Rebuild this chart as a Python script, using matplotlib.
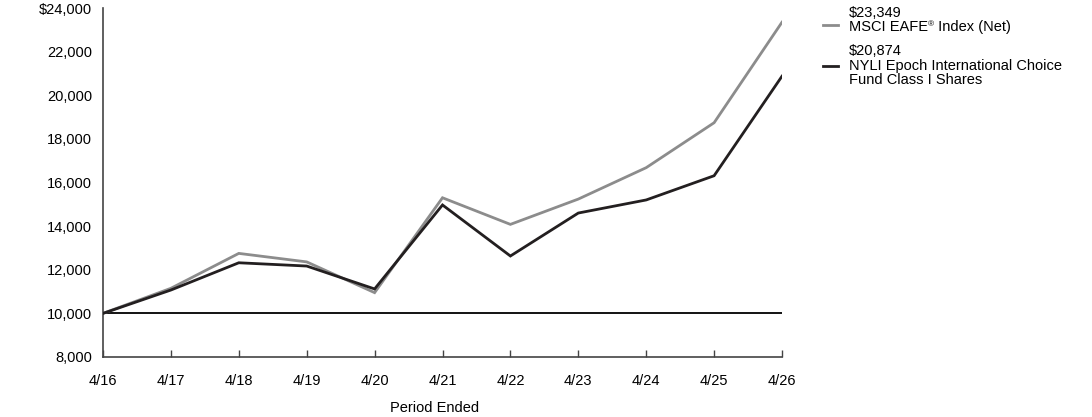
import matplotlib
matplotlib.use("Agg")
import matplotlib.pyplot as plt
from matplotlib.lines import Line2D

plt.rcParams['font.family'] = ['Liberation Sans', 'DejaVu Sans']

periods = ["4/16", "4/17", "4/18", "4/19", "4/20", "4/21", "4/22", "4/23", "4/24", "4/25", "4/26"]
msci = [10000, 11150, 12750, 12360, 10950, 15300, 14080, 15240, 16680, 18740, 23349]
fund = [10000, 11070, 12320, 12170, 11120, 14970, 12630, 14600, 15200, 16310, 20874]
yticks = [8000, 10000, 12000, 14000, 16000, 18000, 20000, 22000, 24000]
ytick_labels = ["8,000", "10,000", "12,000", "14,000", "16,000", "18,000", "20,000", "22,000", "$24,000"]
msci_value = "$23,349"
msci_name = ["MSCI EAFE", "\u00ae", " Index (Net)"]
fund_lines = ["$20,874", "NYLI Epoch International Choice", "Fund Class I Shares"]

W, H = 1092, 417
FS = 10.5
fig = plt.figure(figsize=(W / 100, H / 100), dpi=100)
ax = fig.add_axes([103 / W, 1 - 357 / H, (782 - 103) / W, (357 - 8) / H])

x = list(range(len(periods)))
gray = "#8c8c8c"
dark = "#231f20"
ax.axhline(10000, color="#000000", lw=1.3, zorder=1)
ax.plot(x, msci, color=gray, lw=2, zorder=2, solid_joinstyle="miter")
ax.plot(x, fund, color=dark, lw=2, zorder=3, solid_joinstyle="miter")

ax.set_xlim(0, len(periods) - 1)
ax.set_ylim(8000, 24000)
ax.set_xticks(x)
ax.set_xticklabels(periods, fontsize=FS)
ax.set_yticks(yticks)
ax.set_yticklabels(ytick_labels, fontsize=FS)
ax.tick_params(axis="x", direction="in", length=5, width=1, color="#444444", pad=12)
ax.tick_params(axis="y", length=0, pad=8)
ax.set_yticks([24000], minor=True)
ax.tick_params(axis="y", which="minor", direction="in", length=12.5, width=1.2, color="#444444")

for s in ["top", "right"]:
    ax.spines[s].set_visible(False)
for s in ["left", "bottom"]:
    ax.spines[s].set_color("#444444")
    ax.spines[s].set_linewidth(1.2)

fig.text(435 / W, 1 - 412 / H, "Period Ended", fontsize=FS, ha="center", va="baseline")

# Custom legend
LX = 849
fig.text(LX / W, 1 - 17 / H, msci_value, fontsize=FS, va="baseline", ha="left")
renderer = fig.canvas.get_renderer()
cur = LX
for i, piece in enumerate(msci_name):
    if i == 1:
        t = fig.text(cur / W, 1 - 26 / H, piece, fontsize=6, va="baseline", ha="left")
    else:
        t = fig.text(cur / W, 1 - 31 / H, piece, fontsize=FS, va="baseline", ha="left")
    bb = t.get_window_extent(renderer)
    cur += bb.width
for t, b in zip(fund_lines, [55, 70, 84]):
    fig.text(LX / W, 1 - b / H, t, fontsize=FS, va="baseline", ha="left")

for c, hy in zip([gray, dark], [25, 66]):
    fig.add_artist(Line2D([823 / W, 838 / W], [1 - hy / H, 1 - hy / H], color=c, lw=2,
                          transform=fig.transFigure))

fig.savefig("out.png", dpi=100)
